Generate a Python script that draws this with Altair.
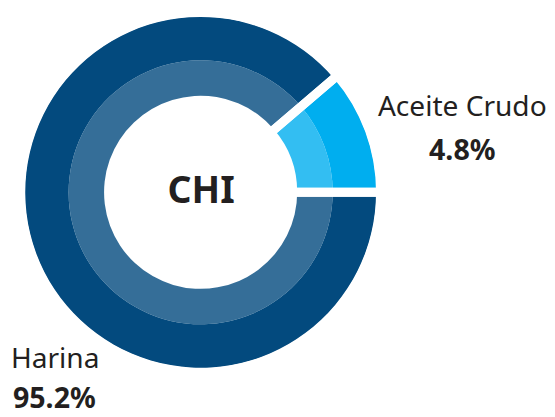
import math
import altair as alt
import pandas as pd

# ---- data ----
categories = ["Aceite Crudo", "Harina"]
percent = [4.8, 95.2]
arc_share = [11.25, 88.75]   # arc sizes as drawn in the picture
center_label = "CHI"
colors = ["#00AEEF", "#034A7E"]

df = pd.DataFrame({
    "cat": categories,
    "pct": percent,
    "share": arc_share,
    "idx": list(range(len(categories))),
})
df["label"] = [f"{p:.1f}%" for p in percent]

FONT = "Noto Sans"
TXT = "#231F20"
start = math.radians(49.5)
theta_scale = alt.Scale(domain=[0, sum(arc_share)], range=[start, start + 2 * math.pi])
CX, CY = 195.5, 184

base = alt.Chart(df).encode(
    theta=alt.Theta("share:Q", stack=True, scale=theta_scale),
    order=alt.Order("idx:Q"),
    x=alt.value(CX),
    y=alt.value(CY),
)
color = alt.Color("cat:N", scale=alt.Scale(domain=categories, range=colors), legend=None)

outer = base.mark_arc(radius=178, radius2=134).encode(color=color)
inner = base.mark_arc(radius=134, radius2=98, opacity=0.8).encode(color=color)
gaps = base.mark_arc(radius=183, radius2=84, filled=False, stroke="white", strokeWidth=9)

center = alt.Chart(pd.DataFrame({"t": [center_label]})).mark_text(
    font=FONT, fontSize=38, fontWeight="bold", color=TXT, align="center", baseline="alphabetic"
).encode(text="t:N", x=alt.value(196), y=alt.value(195))

aceite = df[df["cat"] == "Aceite Crudo"]
harina = df[df["cat"] == "Harina"]

a_name = alt.Chart(aceite).mark_text(
    font=FONT, fontSize=28.5, color=TXT, align="center", baseline="alphabetic"
).encode(text="cat:N", x=alt.value(461), y=alt.value(107))
a_pct = alt.Chart(aceite).mark_text(
    font=FONT, fontSize=29, fontWeight="bold", color=TXT, align="center", baseline="alphabetic"
).encode(text="label:N", x=alt.value(461), y=alt.value(151))
h_name = alt.Chart(harina).mark_text(
    font=FONT, fontSize=28.5, color=TXT, align="left", baseline="alphabetic"
).encode(text="cat:N", x=alt.value(3), y=alt.value(362))
h_pct = alt.Chart(harina).mark_text(
    font=FONT, fontSize=29, fontWeight="bold", color=TXT, align="left", baseline="alphabetic"
).encode(text="label:N", x=alt.value(5), y=alt.value(403))

chart = alt.layer(outer, inner, gaps, center, a_name, a_pct, h_name, h_pct).properties(
    width=547, height=409, padding=0, autosize="none", background="white"
).configure_view(stroke=None)

chart.save("out.html", embed_options={"renderer": "svg", "actions": False})
